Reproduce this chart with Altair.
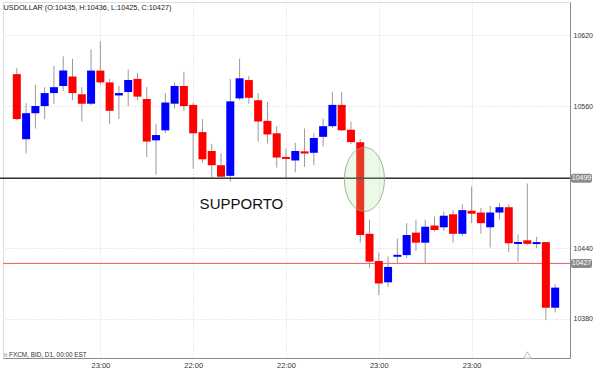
import altair as alt
import pandas as pd

# ---- data ----
opens = [10587, 10532, 10554, 10560, 10571, 10577, 10585, 10570, 10562, 10590,
         10580, 10569, 10572, 10583, 10566, 10531, 10539.5, 10562, 10577, 10561,
         10538, 10522, 10510, 10501, 10566.5, 10582, 10565, 10547.5, 10537, 10517,
         10514, 10521.7, 10520.5, 10534, 10543, 10561, 10540, 10529.5, 10452, 10429,
         10411, 10432.6, 10434, 10453, 10444.5, 10459, 10457.5, 10468.5, 10452, 10471.5,
         10470, 10457.5, 10470, 10474.5, 10443.3, 10446.5, 10443.3, 10445, 10389.5]
highs = [10592, 10562.5, 10578, 10576, 10594, 10602, 10600, 10576, 10608, 10615,
         10583, 10577, 10591, 10588, 10576, 10545, 10571, 10580, 10589, 10563,
         10549, 10528, 10520, 10583, 10600, 10585.5, 10571, 10563.5, 10543, 10524,
         10529, 10541, 10537, 10549.5, 10572, 10572, 10547, 10532, 10464, 10436,
         10433, 10448, 10461, 10464, 10464, 10466.5, 10471, 10472, 10477, 10492,
         10474, 10475.5, 10478, 10477, 10451.5, 10494.5, 10449.5, 10445, 10409.5]
lows = [10548, 10520, 10541, 10549, 10562, 10573, 10565, 10547, 10561, 10578,
        10545, 10549, 10560, 10565, 10517, 10502, 10537, 10558, 10556, 10507,
        10512, 10500, 10499.5, 10496, 10565, 10562, 10530, 10528.5, 10508, 10500,
        10504, 10508.5, 10510, 10526, 10541.4, 10539, 10528, 10444.5, 10423, 10400,
        10407, 10427, 10431.5, 10437.5, 10427, 10454, 10454.5, 10444.5, 10450, 10461,
        10452, 10440.5, 10464, 10436.5, 10428.5, 10442.5, 10440, 10379, 10385.5]
closes = [10549, 10554, 10560, 10571, 10576, 10590, 10571, 10562, 10590, 10580,
          10556, 10571, 10582, 10568, 10530, 10535.5, 10563, 10577, 10560, 10537,
          10515, 10510, 10500.3, 10564, 10583.5, 10567, 10547, 10536, 10516.5, 10515.3,
          10522, 10519.9, 10533, 10543, 10561, 10539.5, 10529.5, 10451, 10428.5, 10410,
          10424, 10434.2, 10451, 10444.5, 10458, 10455.2, 10467.3, 10452, 10472, 10469,
          10461, 10470, 10474.5, 10444, 10445, 10443.5, 10445, 10389.5, 10406.5]

x_tick_pos = [9, 19, 29, 39, 49]
x_tick_labels = ["23:00", "22:00", "22:00", "23:00", "23:00"]
y_ticks = [10380, 10440, 10500, 10560, 10620]

support_level = 10499
last_price = 10427
badge_labels = ["10499", "10427"]
title_text = "USDOLLAR (O:10435, H:10436, L:10425, C:10427)"
footer_text = "FXCM, BID, D1, 00:00 EST"
annotation_text = "SUPPORTO"
annotation_idx = 24.2
annotation_value = 10477
ellipse_idx = 37.45
ellipse_value = 10498
marker_idx = 55

# ---- tables ----
df = pd.DataFrame({
    "idx": list(range(len(opens))),
    "open": opens, "high": highs, "low": lows, "close": closes,
})
df["dir"] = ["up" if c > o else "down" for o, c in zip(opens, closes)]

W, H = 567, 356
FONT = "Liberation Sans"
xs = alt.Scale(domain=[-0.95, 59.06], nice=False, zero=False)
ys = alt.Scale(domain=[10347, 10648], nice=False, zero=False)

label_expr = "''"
for p, l in reversed(list(zip(x_tick_pos, x_tick_labels))):
    label_expr = f"datum.value == {p} ? '{l}' : ({label_expr})"

x_axis = alt.Axis(values=x_tick_pos, labelExpr=label_expr, grid=True, gridDash=[1, 2],
                  gridColor="#d4d4d4", ticks=False, domainColor="#8a8a8a",
                  labelFontSize=7.5, labelColor="#333", labelFont=FONT, labelPadding=3,
                  title=None)
y_axis = alt.Axis(orient="right", values=y_ticks, format="d",
                  labelExpr="datum.value == 10500 ? '' : datum.label",
                  grid=True, gridDash=[1, 2], gridColor="#d4d4d4", ticks=False,
                  domainColor="#8a8a8a", labelFontSize=7, labelColor="#333",
                  labelFont=FONT, labelPadding=3, title=None)

base = alt.Chart(df)

wicks = base.mark_rule(color="#9a9a9a", strokeWidth=1).encode(
    x=alt.X("idx:Q", scale=xs, axis=x_axis),
    y=alt.Y("low:Q", scale=ys, axis=y_axis),
    y2="high:Q",
)
bodies = base.mark_bar(size=8).encode(
    x=alt.X("idx:Q", scale=xs),
    y=alt.Y("open:Q", scale=ys),
    y2="close:Q",
    color=alt.Color("dir:N", scale=alt.Scale(domain=["up", "down"], range=["#0000ff", "#ff0000"]),
                    legend=None),
)

lvl_df = pd.DataFrame({"v": [support_level]})
price_df = pd.DataFrame({"v": [last_price]})

price_rule = alt.Chart(price_df).mark_rule(color="#e85a5a", strokeWidth=1, opacity=1).encode(
    y=alt.Y("v:Q", scale=ys), x=alt.value(0), x2=alt.value(W))
support_rule = alt.Chart(lvl_df).mark_rule(color="#333", strokeWidth=1.5).encode(
    y=alt.Y("v:Q", scale=ys), x=alt.value(-3), x2=alt.value(W))

badge_df = pd.DataFrame({"v": [support_level, last_price], "t": badge_labels})
badge_rect = alt.Chart(badge_df).mark_rect(height=9, cornerRadius=2, color="#8c8c8c").encode(
    y=alt.Y("v:Q", scale=ys), x=alt.value(W + 1), x2=alt.value(W + 22))
badge_text = alt.Chart(badge_df).mark_text(color="white", fontSize=7, font=FONT,
                                            align="center", baseline="middle").encode(
    y=alt.Y("v:Q", scale=ys), x=alt.value(W + 11.5), text="t:N")

ellipse_path = "M0,-1A0.625,1,0,1,1,0,1A0.625,1,0,1,1,0,-1Z"
ell_df = pd.DataFrame({"idx": [ellipse_idx], "v": [ellipse_value]})
ellipse = alt.Chart(ell_df).mark_point(shape=ellipse_path, size=4096, filled=True,
                                       fill="#a8ec98", fillOpacity=0.24, stroke="#86a47e",
                                       strokeWidth=0.8, strokeOpacity=1, opacity=1).encode(
    x=alt.X("idx:Q", scale=xs), y=alt.Y("v:Q", scale=ys))

ann_df = pd.DataFrame({"idx": [annotation_idx], "v": [annotation_value], "t": [annotation_text]})
annotation = alt.Chart(ann_df).mark_text(fontSize=15, font=FONT, color="#111",
                                          align="center", baseline="middle").encode(
    x=alt.X("idx:Q", scale=xs), y=alt.Y("v:Q", scale=ys), text="t:N")

title_mark = alt.Chart(pd.DataFrame({"t": [title_text]})).mark_text(
    fontSize=7.3, font=FONT, color="#222", align="left", baseline="middle").encode(
    text="t:N", x=alt.value(0.5), y=alt.value(6))

footer_mark = alt.Chart(pd.DataFrame({"t": [footer_text]})).mark_text(
    fontSize=6.4, font=FONT, color="#333", align="left", baseline="middle").encode(
    text="t:N", x=alt.value(6), y=alt.value(352.5))
footer_icon = alt.Chart(pd.DataFrame({"t": [footer_text]})).mark_square(
    size=14, color="#cfcfcf", opacity=1).encode(x=alt.value(2.5), y=alt.value(353))

marker_df = pd.DataFrame({"idx": [marker_idx]})
marker = alt.Chart(marker_df).mark_point(shape="triangle-up", size=55, filled=True,
                                         fill="white", stroke="#bdbdbd", strokeWidth=1,
                                         opacity=1).encode(
    x=alt.X("idx:Q", scale=xs), y=alt.value(353))

chart = alt.layer(
    price_rule, wicks, bodies, support_rule, ellipse, badge_rect, badge_text,
    annotation, title_mark, footer_icon, footer_mark, marker,
).properties(
    width=W, height=H,
    autosize=alt.AutoSizeParams(type="none"),
    padding={"left": 3, "top": 2, "right": 30, "bottom": 10},
).configure_view(stroke="#a8a8a8", strokeWidth=1).configure(background="white")

chart.save("out.html", embed_options={"renderer": "svg", "actions": False})
